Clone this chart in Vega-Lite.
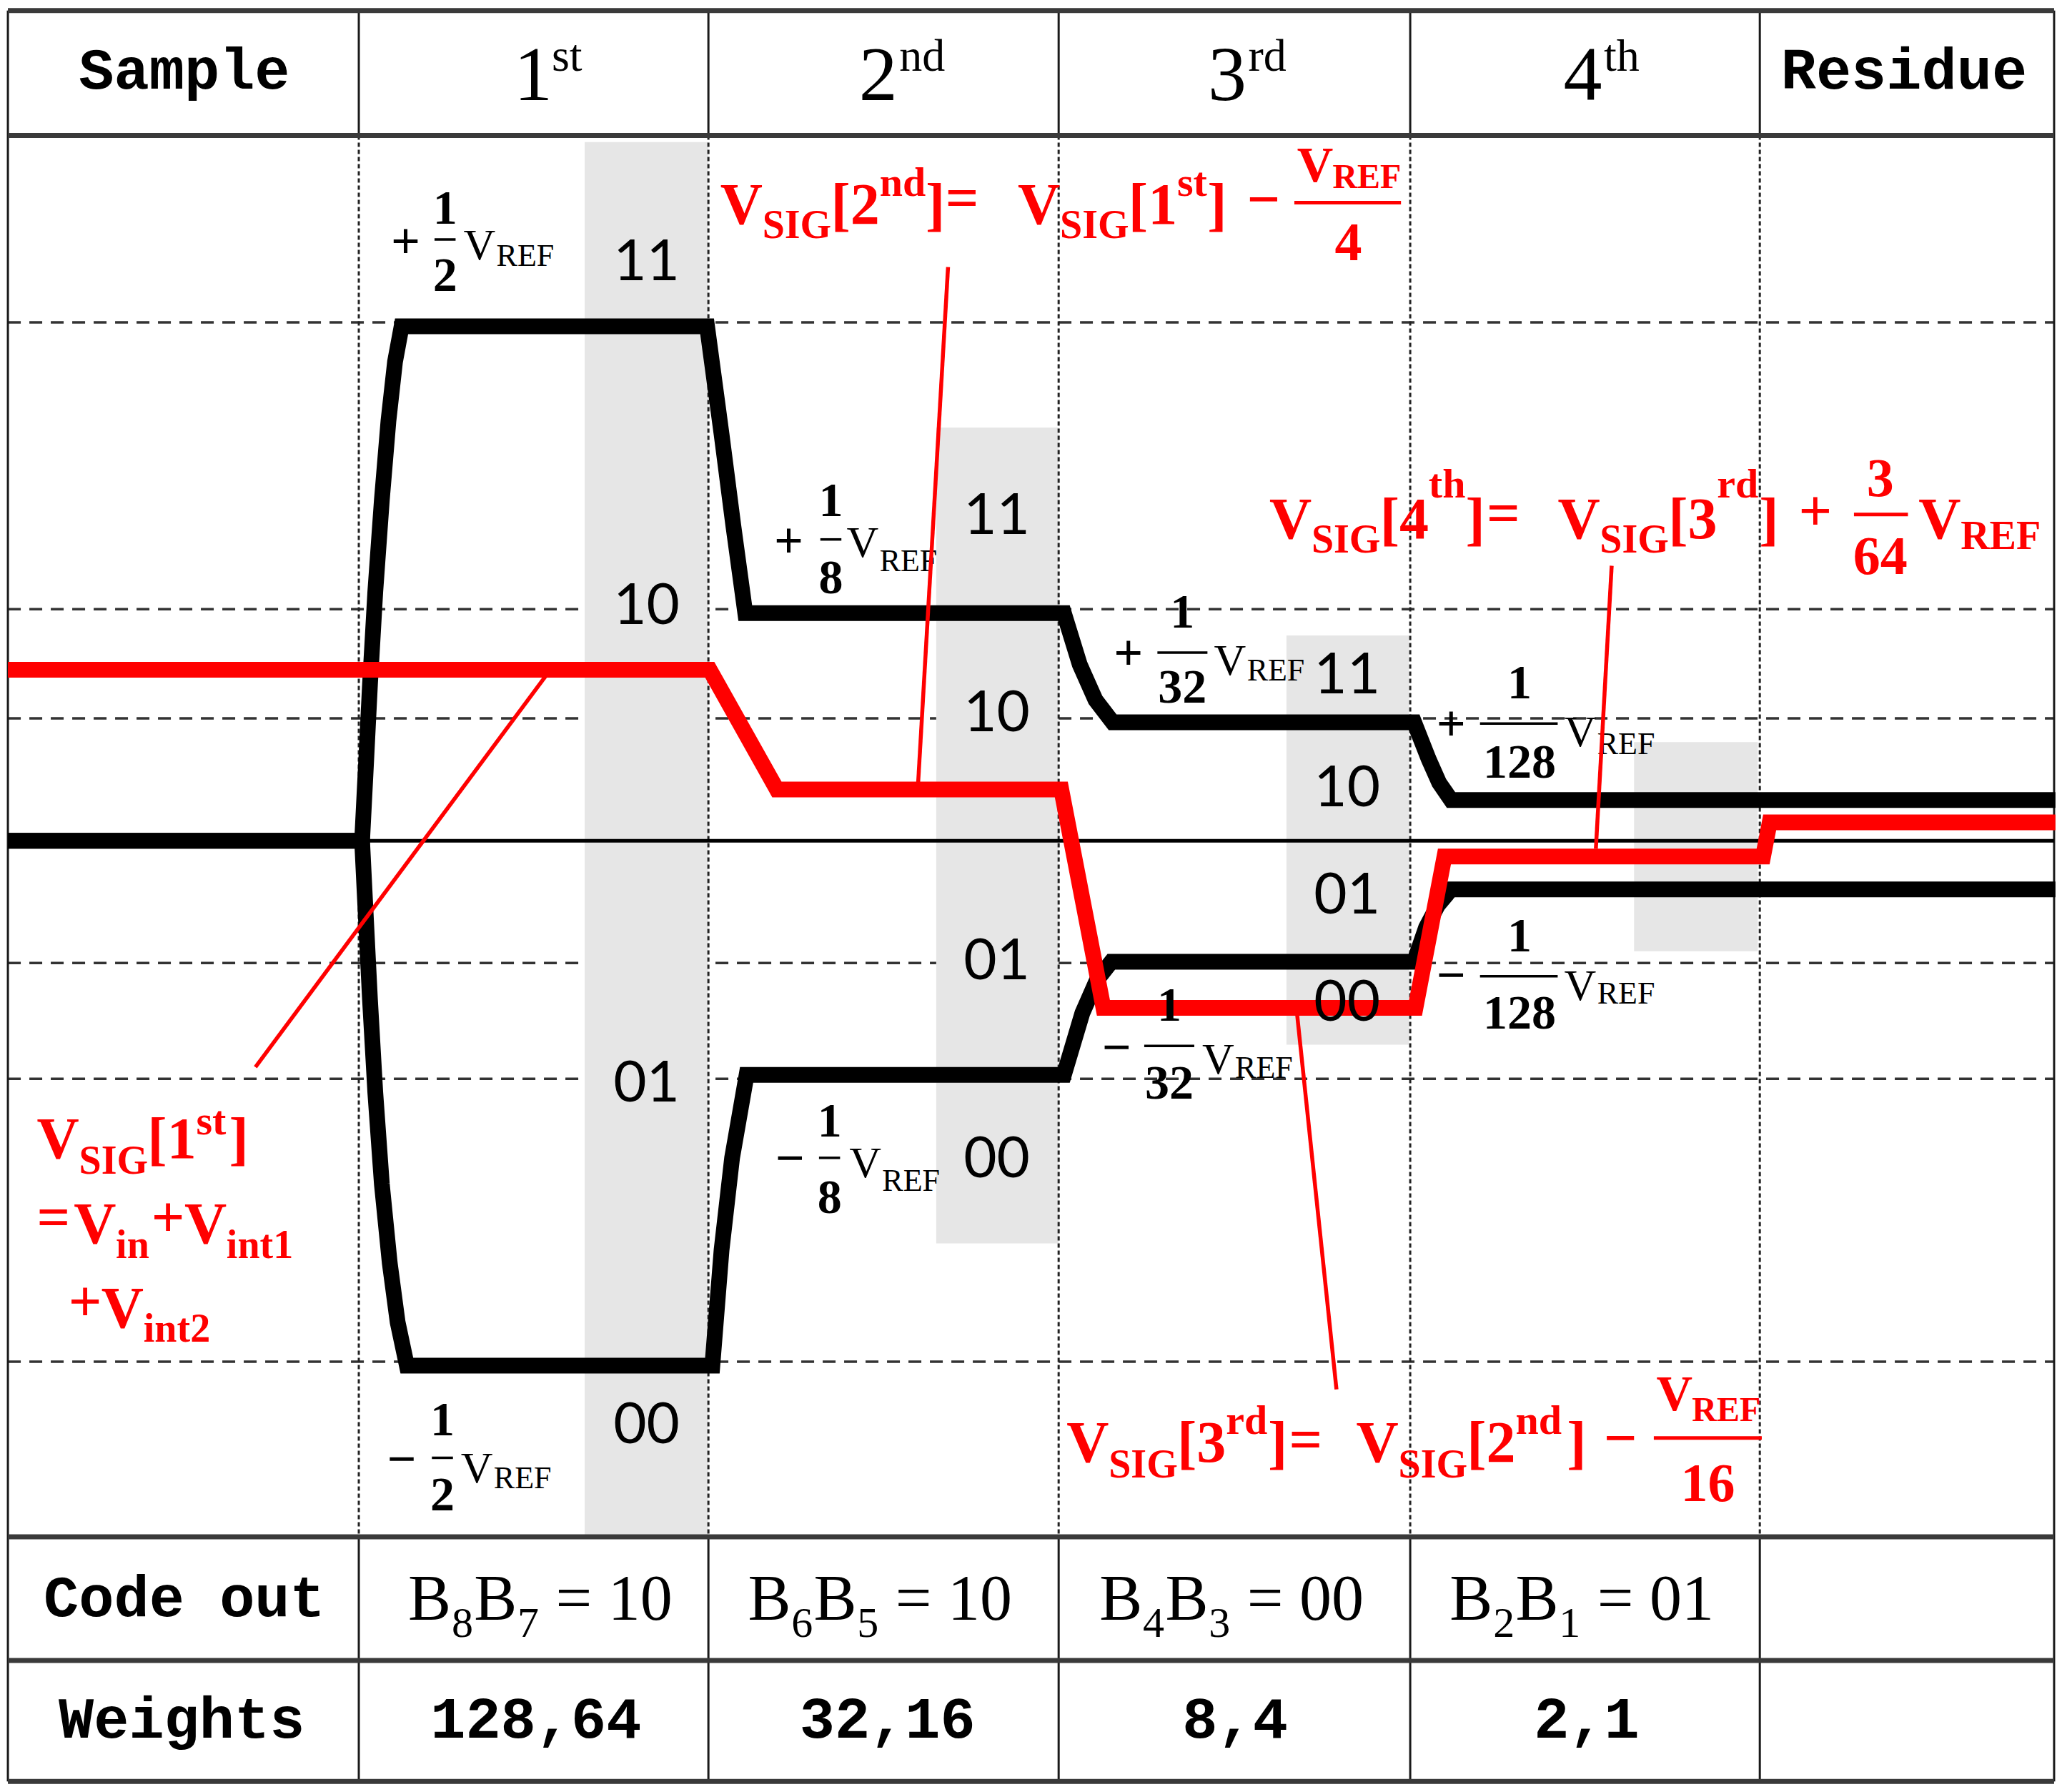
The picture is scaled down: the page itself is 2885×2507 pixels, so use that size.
{
"$schema": "https://vega.github.io/schema/vega-lite/v6.json",
"width": 2885, "height": 2507,
"autosize": {"type": "none"},
"padding": 0,
"background": "white",
"config": {"view": {"stroke": null}},
"datasets": {
"hdash": [{"x":6,"x2":1560,"y":245},{"x":6,"x2":1560,"y":463},{"x":6,"x2":1560,"y":546},{"x":6,"x2":1560,"y":732},{"x":6,"x2":1560,"y":820},{"x":6,"x2":1560,"y":1035}],
"shade": [{"x":444,"x2":538,"y":108,"y2":1168},{"x":711,"x2":804,"y":325,"y2":945},{"x":977,"x2":1070,"y":483,"y2":794},{"x":1241,"x2":1335,"y":564,"y2":723}],
"vdash": [{"x":272.5,"y":103,"y2":1168},{"x":538,"y":103,"y2":1168},{"x":804,"y":103,"y2":1168},{"x":1071,"y":103,"y2":1168},{"x":1336.5,"y":103,"y2":1168}],
"vsolid": [{"x":272.5,"y":8,"y2":103},{"x":538,"y":8,"y2":103},{"x":804,"y":8,"y2":103},{"x":1071,"y":8,"y2":103},{"x":1336.5,"y":8,"y2":103},
{"x":272.5,"y":1168,"y2":1354},{"x":538,"y":1168,"y2":1354},{"x":804,"y":1168,"y2":1354},{"x":1071,"y":1168,"y2":1354},{"x":1336.5,"y":1168,"y2":1354},
{"x":6,"y":8,"y2":1354},{"x":1560,"y":8,"y2":1354}],
"hsolid": [{"x":6,"x2":1560,"y":8},{"x":6,"x2":1560,"y":103},{"x":6,"x2":1560,"y":1168},{"x":6,"x2":1560,"y":1262},{"x":6,"x2":1560,"y":1354}],
"zero": [{"x":6,"x2":1560,"y":639}],
"sig": [
{"s":"upper","o":1,"x":6,"y":639},{"s":"upper","o":2,"x":275,"y":639},{"s":"upper","o":3,"x":278,"y":580},{"s":"upper","o":4,"x":281,"y":520},{"s":"upper","o":5,"x":285,"y":450},{"s":"upper","o":6,"x":290,"y":380},{"s":"upper","o":7,"x":295,"y":320},{"s":"upper","o":8,"x":300,"y":275},{"s":"upper","o":9,"x":305,"y":248},{"s":"upper","o":10,"x":537,"y":248},{"s":"upper","o":11,"x":548,"y":330},{"s":"upper","o":12,"x":557,"y":400},{"s":"upper","o":13,"x":566,"y":466},{"s":"upper","o":14,"x":808,"y":466},{"s":"upper","o":15,"x":820,"y":505},{"s":"upper","o":16,"x":832,"y":532},{"s":"upper","o":17,"x":845,"y":549},{"s":"upper","o":18,"x":1074,"y":549},{"s":"upper","o":19,"x":1085,"y":577},{"s":"upper","o":20,"x":1093,"y":595},{"s":"upper","o":21,"x":1102,"y":608},{"s":"upper","o":22,"x":1561,"y":608},
{"s":"lower","o":1,"x":6,"y":639},{"s":"lower","o":2,"x":275,"y":639},{"s":"lower","o":3,"x":278,"y":700},{"s":"lower","o":4,"x":281,"y":760},{"s":"lower","o":5,"x":285,"y":830},{"s":"lower","o":6,"x":290,"y":900},{"s":"lower","o":7,"x":296,"y":960},{"s":"lower","o":8,"x":302,"y":1005},{"s":"lower","o":9,"x":309,"y":1038},{"s":"lower","o":10,"x":541,"y":1038},{"s":"lower","o":11,"x":548,"y":950},{"s":"lower","o":12,"x":556,"y":880},{"s":"lower","o":13,"x":567,"y":817},{"s":"lower","o":14,"x":808,"y":817},{"s":"lower","o":15,"x":822,"y":770},{"s":"lower","o":16,"x":833,"y":745},{"s":"lower","o":17,"x":844,"y":731},{"s":"lower","o":18,"x":1074,"y":731},{"s":"lower","o":19,"x":1083,"y":705},{"s":"lower","o":20,"x":1092,"y":688},{"s":"lower","o":21,"x":1102,"y":676},{"s":"lower","o":22,"x":1561,"y":676}
],
"vsig": [{"o":1,"x":6,"y":509},{"o":2,"x":539,"y":509},{"o":3,"x":590,"y":600},{"o":4,"x":806,"y":600},{"o":5,"x":838,"y":766},{"o":6,"x":1075,"y":766},{"o":7,"x":1097,"y":651},{"o":8,"x":1339,"y":651},{"o":9,"x":1344,"y":625},{"o":10,"x":1561,"y":625}],
"pointer": [{"x":418,"y":509,"x2":194,"y2":811},{"x":720,"y":203,"x2":697,"y2":600},{"x":985,"y":770,"x2":1015,"y2":1056},{"x":1224,"y":430,"x2":1212,"y2":645}],
"fbar": [{"x":330,"x2":346,"y":182},{"x":623,"x2":639,"y":410},{"x":879,"x2":917,"y":496},{"x":1124,"x2":1183,"y":550},{"x":1124,"x2":1183,"y":742},{"x":869,"x2":907,"y":795},{"x":622,"x2":638,"y":880},{"x":328,"x2":344,"y":1108}],
"rbar": [{"x":983,"x2":1064,"y":154},{"x":1408,"x2":1449,"y":391},{"x":1256,"x2":1338,"y":1093}],
"txt": [
{"k":"mono","t":"Sample","x":140,"y":54},{"k":"mono","t":"Residue","x":1446,"y":54},{"k":"mono","t":"Code out","x":140,"y":1215},{"k":"mono","t":"Weights","x":138,"y":1307},
{"k":"mono","t":"128,64","x":407,"y":1307},{"k":"mono","t":"32,16","x":674,"y":1307},{"k":"mono","t":"8,4","x":938,"y":1307},{"k":"mono","t":"2,1","x":1205,"y":1307},
{"k":"ord","t":"1","x":405,"y":76},{"k":"ord","t":"2","x":667,"y":76},{"k":"ord","t":"3","x":932,"y":76},{"k":"ord","t":"4","x":1202,"y":76},
{"k":"ordsup","t":"st","x":419,"y":54},{"k":"ordsup","t":"nd","x":683,"y":54},{"k":"ordsup","t":"rd","x":948,"y":54},{"k":"ordsup","t":"th","x":1218,"y":54},
{"k":"codeB","t":"B","x":310,"y":1231},{"k":"codeB","t":"B","x":360,"y":1231},{"k":"codeB","t":"= 10","x":422,"y":1231},
{"k":"codesub","t":"8","x":343,"y":1244},{"k":"codesub","t":"7","x":393,"y":1244},
{"k":"codeB","t":"B","x":568,"y":1231},{"k":"codeB","t":"B","x":618,"y":1231},{"k":"codeB","t":"= 10","x":680,"y":1231},
{"k":"codesub","t":"6","x":601,"y":1244},{"k":"codesub","t":"5","x":651,"y":1244},
{"k":"codeB","t":"B","x":835,"y":1231},{"k":"codeB","t":"B","x":885,"y":1231},{"k":"codeB","t":"= 00","x":947,"y":1231},
{"k":"codesub","t":"4","x":868,"y":1244},{"k":"codesub","t":"3","x":918,"y":1244},
{"k":"codeB","t":"B","x":1101,"y":1231},{"k":"codeB","t":"B","x":1151,"y":1231},{"k":"codeB","t":"= 01","x":1213,"y":1231},
{"k":"codesub","t":"2","x":1134,"y":1244},{"k":"codesub","t":"1","x":1184,"y":1244},
{"k":"bin","t":"11","x":491,"y":200},{"k":"bin","t":"10","x":491,"y":461},{"k":"bin","t":"01","x":491,"y":824},{"k":"bin","t":"00","x":491,"y":1084},
{"k":"bin","t":"11","x":757,"y":393},{"k":"bin","t":"10","x":757,"y":543},{"k":"bin","t":"01","x":757,"y":731},{"k":"bin","t":"00","x":757,"y":882},
{"k":"bin","t":"11","x":1023,"y":514},{"k":"bin","t":"10","x":1023,"y":600},{"k":"bin","t":"01","x":1023,"y":681},{"k":"bin","t":"00","x":1023,"y":763},
{"k":"fsign","t":"+","x":308,"y":184},{"k":"fsign","t":"+","x":599,"y":412},{"k":"fsign","t":"+","x":857,"y":497},{"k":"fsign","t":"+","x":1102,"y":551},
{"k":"fsign","t":"−","x":1102,"y":742},{"k":"fsign","t":"−","x":848,"y":797},{"k":"fsign","t":"−","x":600,"y":881},{"k":"fsign","t":"−","x":305,"y":1110},
{"k":"fdig","t":"1","x":338,"y":170},{"k":"fdig","t":"2","x":338,"y":221},
{"k":"fdig","t":"1","x":631,"y":392},{"k":"fdig","t":"8","x":631,"y":451},
{"k":"fdig","t":"1","x":898,"y":477},{"k":"fdig","t":"32","x":898,"y":534},
{"k":"fdig","t":"1","x":1154,"y":531},{"k":"fdig","t":"128","x":1154,"y":591},
{"k":"fdig","t":"1","x":1154,"y":723},{"k":"fdig","t":"128","x":1154,"y":782},
{"k":"fdig","t":"1","x":888,"y":776},{"k":"fdig","t":"32","x":888,"y":835},
{"k":"fdig","t":"1","x":630,"y":864},{"k":"fdig","t":"8","x":630,"y":922},
{"k":"fdig","t":"1","x":336,"y":1091},{"k":"fdig","t":"2","x":336,"y":1148},
{"k":"fV","t":"V","x":352,"y":197},{"k":"fV","t":"V","x":643,"y":423},{"k":"fV","t":"V","x":922,"y":513},{"k":"fV","t":"V","x":1188,"y":567},
{"k":"fV","t":"V","x":1188,"y":760},{"k":"fV","t":"V","x":913,"y":816},{"k":"fV","t":"V","x":645,"y":895},{"k":"fV","t":"V","x":350,"y":1127},
{"k":"fREF","t":"REF","x":377,"y":202},{"k":"fREF","t":"REF","x":668,"y":434},{"k":"fREF","t":"REF","x":947,"y":517},{"k":"fREF","t":"REF","x":1213,"y":573},
{"k":"fREF","t":"REF","x":1213,"y":763},{"k":"fREF","t":"REF","x":938,"y":819},{"k":"fREF","t":"REF","x":670,"y":905},{"k":"fREF","t":"REF","x":375,"y":1131},
{"k":"rmain","t":"V","x":547,"y":170},{"k":"rsub","t":"SIG","x":579,"y":181},{"k":"rmain","t":"[2","x":631,"y":170},{"k":"rsup","t":"nd","x":668,"y":149},{"k":"rmain","t":"]","x":703,"y":170},{"k":"rmain","t":"=","x":718,"y":165},
{"k":"rmain","t":"V","x":773,"y":170},{"k":"rsub","t":"SIG","x":805,"y":181},{"k":"rmain","t":"[1","x":857,"y":170},{"k":"rsup","t":"st","x":894,"y":149},{"k":"rmain","t":"]","x":917,"y":170},{"k":"rmain","t":"−","x":947,"y":166},
{"k":"rnumV","t":"V","x":985,"y":138},{"k":"rREF","t":"REF","x":1012,"y":143},{"k":"rfdig","t":"4","x":1024,"y":198},
{"k":"rmain","t":"V","x":964,"y":409},{"k":"rsub","t":"SIG","x":996,"y":420},{"k":"rmain","t":"[4","x":1048,"y":409},{"k":"rsup","t":"th","x":1085,"y":378},{"k":"rmain","t":"]","x":1113,"y":409},{"k":"rmain","t":"=","x":1129,"y":405},
{"k":"rmain","t":"V","x":1183,"y":409},{"k":"rsub","t":"SIG","x":1215,"y":420},{"k":"rmain","t":"[3","x":1267,"y":409},{"k":"rsup","t":"rd","x":1304,"y":378},{"k":"rmain","t":"]","x":1336,"y":409},{"k":"rmain","t":"+","x":1366,"y":403},
{"k":"rfdig","t":"3","x":1428,"y":377},{"k":"rfdig","t":"64","x":1428,"y":436},{"k":"rmain","t":"V","x":1457,"y":409},{"k":"rsub","t":"REF","x":1489,"y":417},
{"k":"rmain","t":"V","x":810,"y":1111},{"k":"rsub","t":"SIG","x":842,"y":1123},{"k":"rmain","t":"[3","x":894,"y":1111},{"k":"rsup","t":"rd","x":931,"y":1090},{"k":"rmain","t":"]","x":963,"y":1111},{"k":"rmain","t":"=","x":979,"y":1109},
{"k":"rmain","t":"V","x":1030,"y":1111},{"k":"rsub","t":"SIG","x":1062,"y":1123},{"k":"rmain","t":"[2","x":1114,"y":1111},{"k":"rsup","t":"nd","x":1151,"y":1090},{"k":"rmain","t":"]","x":1190,"y":1111},{"k":"rmain","t":"−","x":1218,"y":1108},
{"k":"rnumV","t":"V","x":1258,"y":1072},{"k":"rREF","t":"REF","x":1285,"y":1080},{"k":"rfdig","t":"16","x":1297,"y":1141},
{"k":"rmain","t":"V","x":28,"y":880},{"k":"rsub","t":"SIG","x":60,"y":892},{"k":"rmain","t":"[1","x":112,"y":880},{"k":"rsup","t":"st","x":149,"y":862},{"k":"rmain","t":"]","x":174,"y":880},
{"k":"rmain","t":"=","x":28,"y":940},{"k":"rmain","t":"V","x":56,"y":945},{"k":"rsub","t":"in","x":88,"y":956},{"k":"rmain","t":"+","x":115,"y":940},{"k":"rmain","t":"V","x":140,"y":945},{"k":"rsub","t":"int1","x":172,"y":956},
{"k":"rmain","t":"+","x":52,"y":1004},{"k":"rmain","t":"V","x":77,"y":1009},{"k":"rsub","t":"int2","x":109,"y":1020}
]
},
"encoding": {
"x": {"field": "x", "type": "quantitative", "scale": {"domain": [0, 1566], "nice": false, "zero": false}, "axis": null},
"y": {"field": "y", "type": "quantitative", "scale": {"domain": [0, 1362], "nice": false, "zero": false, "reverse": true}, "axis": null}
},
"layer": [
{"data": {"name": "hdash"}, "mark": {"type": "rule", "color": "#333333", "strokeWidth": 3.5, "strokeDash": [18, 12]}, "encoding": {"x2": {"field": "x2"}}},
{"data": {"name": "shade"}, "mark": {"type": "rect", "color": "#e6e6e6"}, "encoding": {"x2": {"field": "x2"}, "y2": {"field": "y2"}}},
{"data": {"name": "vdash"}, "mark": {"type": "rule", "color": "#222222", "strokeWidth": 3, "strokeDash": [6, 4]}, "encoding": {"y2": {"field": "y2"}}},
{"data": {"name": "vsolid"}, "mark": {"type": "rule", "color": "#1a1a1a", "strokeWidth": 3}, "encoding": {"y2": {"field": "y2"}}},
{"data": {"name": "hsolid"}, "mark": {"type": "rule", "color": "#3a3a3a", "strokeWidth": 7}, "encoding": {"x2": {"field": "x2"}}},
{"data": {"name": "zero"}, "mark": {"type": "rule", "color": "#000000", "strokeWidth": 5}, "encoding": {"x2": {"field": "x2"}}},
{"data": {"name": "sig"}, "mark": {"type": "line", "color": "#000000", "strokeWidth": 22, "strokeJoin": "miter", "strokeCap": "butt"}, "encoding": {"detail": {"field": "s"}, "order": {"field": "o", "type": "quantitative"}}},
{"data": {"name": "vsig"}, "mark": {"type": "line", "color": "#ff0000", "strokeWidth": 22, "strokeJoin": "miter", "strokeCap": "butt"}, "encoding": {"order": {"field": "o", "type": "quantitative"}}},
{"data": {"name": "fbar"}, "mark": {"type": "rule", "color": "#000000", "strokeWidth": 3.5}, "encoding": {"x2": {"field": "x2"}}},
{"data": {"name": "txt"}, "transform": [{"filter": "datum.k === 'bin'"}], "mark": {"type": "text", "font": "Lato", "fontSize": 80, "align": "center", "baseline": "middle", "color": "#000000"}, "encoding": {"text": {"field": "t"}}},
{"data": {"name": "txt"}, "transform": [{"filter": "datum.k === 'fsign'"}], "mark": {"type": "text", "font": "Liberation Serif", "fontSize": 72, "fontWeight": "bold", "align": "center", "baseline": "middle", "color": "#000000"}, "encoding": {"text": {"field": "t"}}},
{"data": {"name": "txt"}, "transform": [{"filter": "datum.k === 'fdig'"}], "mark": {"type": "text", "font": "Liberation Serif", "fontSize": 68, "fontWeight": "bold", "align": "center", "baseline": "alphabetic", "color": "#000000"}, "encoding": {"text": {"field": "t"}}},
{"data": {"name": "txt"}, "transform": [{"filter": "datum.k === 'fV'"}], "mark": {"type": "text", "font": "Liberation Serif", "fontSize": 62, "align": "left", "baseline": "alphabetic", "color": "#000000"}, "encoding": {"text": {"field": "t"}}},
{"data": {"name": "txt"}, "transform": [{"filter": "datum.k === 'fREF'"}], "mark": {"type": "text", "font": "Liberation Serif", "fontSize": 44, "align": "left", "baseline": "alphabetic", "color": "#000000"}, "encoding": {"text": {"field": "t"}}},
{"data": {"name": "txt"}, "transform": [{"filter": "datum.k === 'mono'"}], "mark": {"type": "text", "font": "Liberation Mono", "fontSize": 82, "fontWeight": "bold", "align": "center", "baseline": "middle", "color": "#000000"}, "encoding": {"text": {"field": "t"}}},
{"data": {"name": "txt"}, "transform": [{"filter": "datum.k === 'ord'"}], "mark": {"type": "text", "font": "Liberation Serif", "fontSize": 108, "align": "center", "baseline": "alphabetic", "color": "#000000"}, "encoding": {"text": {"field": "t"}}},
{"data": {"name": "txt"}, "transform": [{"filter": "datum.k === 'ordsup'"}], "mark": {"type": "text", "font": "Liberation Serif", "fontSize": 64, "align": "left", "baseline": "alphabetic", "color": "#000000"}, "encoding": {"text": {"field": "t"}}},
{"data": {"name": "txt"}, "transform": [{"filter": "datum.k === 'codeB'"}], "mark": {"type": "text", "font": "Liberation Serif", "fontSize": 90, "align": "left", "baseline": "alphabetic", "color": "#000000"}, "encoding": {"text": {"field": "t"}}},
{"data": {"name": "txt"}, "transform": [{"filter": "datum.k === 'codesub'"}], "mark": {"type": "text", "font": "Liberation Serif", "fontSize": 60, "align": "left", "baseline": "alphabetic", "color": "#000000"}, "encoding": {"text": {"field": "t"}}},
{"data": {"name": "pointer"}, "mark": {"type": "rule", "color": "#ff0000", "strokeWidth": 5.5}, "encoding": {"x2": {"field": "x2"}, "y2": {"field": "y2"}}},
{"data": {"name": "rbar"}, "mark": {"type": "rule", "color": "#ff0000", "strokeWidth": 5}, "encoding": {"x2": {"field": "x2"}}},
{"data": {"name": "txt"}, "transform": [{"filter": "datum.k === 'rmain'"}], "mark": {"type": "text", "font": "Liberation Serif", "fontSize": 82, "fontWeight": "bold", "align": "left", "baseline": "alphabetic", "color": "#ff0000"}, "encoding": {"text": {"field": "t"}}},
{"data": {"name": "txt"}, "transform": [{"filter": "datum.k === 'rsub'"}], "mark": {"type": "text", "font": "Liberation Serif", "fontSize": 56, "fontWeight": "bold", "align": "left", "baseline": "alphabetic", "color": "#ff0000"}, "encoding": {"text": {"field": "t"}}},
{"data": {"name": "txt"}, "transform": [{"filter": "datum.k === 'rsup'"}], "mark": {"type": "text", "font": "Liberation Serif", "fontSize": 58, "fontWeight": "bold", "align": "left", "baseline": "alphabetic", "color": "#ff0000"}, "encoding": {"text": {"field": "t"}}},
{"data": {"name": "txt"}, "transform": [{"filter": "datum.k === 'rfdig'"}], "mark": {"type": "text", "font": "Liberation Serif", "fontSize": 76, "fontWeight": "bold", "align": "center", "baseline": "alphabetic", "color": "#ff0000"}, "encoding": {"text": {"field": "t"}}},
{"data": {"name": "txt"}, "transform": [{"filter": "datum.k === 'rnumV'"}], "mark": {"type": "text", "font": "Liberation Serif", "fontSize": 70, "fontWeight": "bold", "align": "left", "baseline": "alphabetic", "color": "#ff0000"}, "encoding": {"text": {"field": "t"}}},
{"data": {"name": "txt"}, "transform": [{"filter": "datum.k === 'rREF'"}], "mark": {"type": "text", "font": "Liberation Serif", "fontSize": 48, "fontWeight": "bold", "align": "left", "baseline": "alphabetic", "color": "#ff0000"}, "encoding": {"text": {"field": "t"}}}
]
}
